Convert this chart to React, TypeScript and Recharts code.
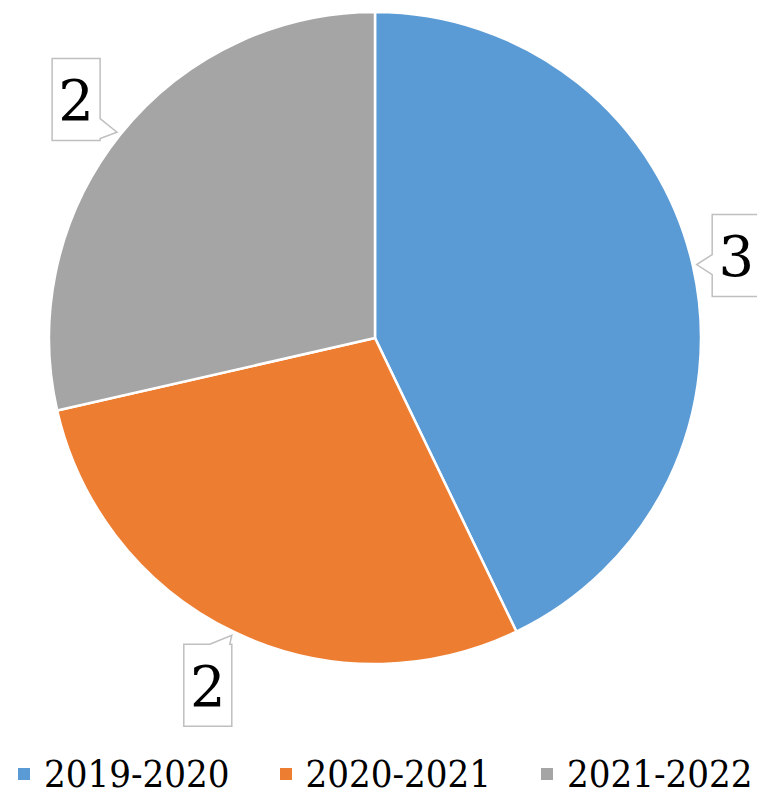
import { PieChart, Pie, Cell, Legend } from "recharts";

const seasons = ["2019-2020", "2020-2021", "2021-2022"];
const counts = [3, 2, 2];
const colors = ["#5B9BD5", "#ED7D31", "#A5A5A5"];

const data = seasons.map((name, i) => ({ name, value: counts[i] }));

const FONT = '"DejaVu Serif", serif';
const FONT_NARROW = '"DejaVu Serif Condensed", "DejaVu Serif", serif';
const RAD = Math.PI / 180;

// callout box with a little pointer that touches the slice edge
function CalloutLabel(props: any) {
  const { cx, cy, midAngle, outerRadius, value } = props;
  const cos = Math.cos(-midAngle * RAD);
  const sin = Math.sin(-midAngle * RAD);
  const tipR = outerRadius + 4;
  const tx = cx + tipR * cos;
  const ty = cy + tipR * sin;
  const hw = 24;
  const hh = 41;
  const ext = hw * Math.abs(cos) + hh * Math.abs(sin) + 8;
  const bx = tx + cos * ext;
  const by = ty + sin * ext;
  const x0 = bx - hw, x1 = bx + hw, y0 = by - hh, y1 = by + hh;
  const half = 10;
  const clamp = (v: number, a: number, b: number) => Math.max(a + half + 2, Math.min(b - half - 2, v));

  let pts: [number, number][];
  if (Math.abs(cos) * hh > Math.abs(sin) * hw) {
    const m = clamp(ty, y0, y1);
    if (cos < 0) {
      pts = [[x0, y0], [x1, y0], [x1, m - half], [tx, ty], [x1, m + half], [x1, y1], [x0, y1]];
    } else {
      pts = [[x0, y0], [x1, y0], [x1, y1], [x0, y1], [x0, m + half], [tx, ty], [x0, m - half]];
    }
  } else {
    const m = clamp(tx, x0, x1);
    if (sin < 0) {
      pts = [[x0, y0], [x1, y0], [x1, y1], [m + half, y1], [tx, ty], [m - half, y1], [x0, y1]];
    } else {
      pts = [[x0, y0], [m - half, y0], [tx, ty], [m + half, y0], [x1, y0], [x1, y1], [x0, y1]];
    }
  }
  const d = "M" + pts.map((p) => p[0].toFixed(1) + "," + p[1].toFixed(1)).join("L") + "Z";

  return (
    <g>
      <path d={d} fill="#fff" stroke="#BFBFBF" strokeWidth={1.5} />
      <text x={bx} y={by + 1} textAnchor="middle" dominantBaseline="central" style={{ fontFamily: FONT }} fontSize={56} fill="#000">
        {value}
      </text>
    </g>
  );
}

function LegendBox() {
  return (
    <div style={{ display: "flex", alignItems: "center", paddingLeft: 18, gap: 50, fontFamily: FONT_NARROW, fontStretch: "condensed", fontSize: 38, lineHeight: "48px", color: "#000", whiteSpace: "nowrap" }}>
      {seasons.map((s, i) => (
        <div key={s} style={{ display: "flex", alignItems: "center" }}>
          <span style={{ width: 12, height: 12, background: colors[i], marginRight: 14, display: "inline-block", flex: "none" }} />
          <span>{s}</span>
        </div>
      ))}
    </div>
  );
}

export default function App() {
  return (
    <div style={{ position: "absolute", left: 0, top: 0, width: 757, height: 795, background: "#fff" }}>
      <PieChart width={757} height={795} margin={{ top: 0, right: 0, bottom: 0, left: 0 }}>
        <Pie
          data={data}
          dataKey="value"
          nameKey="name"
          cx={375}
          cy={338}
          outerRadius={326}
          startAngle={90}
          endAngle={-270}
          stroke="#fff"
          strokeWidth={2.5}
          label={CalloutLabel}
          labelLine={false}
          isAnimationActive={false}
        >
          {data.map((d, i) => (
            <Cell key={d.name} fill={colors[i]} />
          ))}
        </Pie>
        <Legend content={() => <LegendBox />} wrapperStyle={{ position: "absolute", left: 0, top: 750, width: 757 }} />
      </PieChart>
    </div>
  );
}
